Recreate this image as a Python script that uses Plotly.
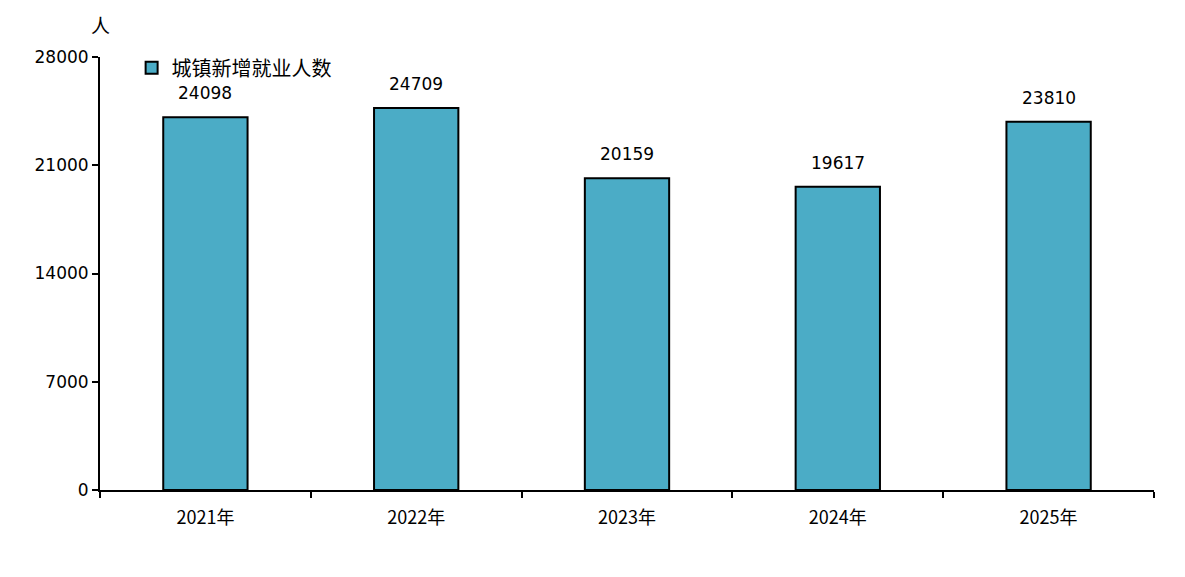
import plotly.graph_objects as go

years = ["2021年", "2022年", "2023年", "2024年", "2025年"]
new_jobs = [24098, 24709, 20159, 19617, 23810]
y_ticks = [0, 7000, 14000, 21000, 28000]

font_cn = "Noto Sans CJK SC, DejaVu Sans, sans-serif"

fig = go.Figure()
fig.add_trace(go.Bar(
    x=years, y=new_jobs, name="城镇新增就业人数",
    width=0.4,
    marker=dict(color="#4BACC6", line=dict(color="black", width=2)),
))

# value labels above the bars
for yr, v in zip(years, new_jobs):
    fig.add_annotation(x=yr, y=v, text=str(v), showarrow=False,
                       yanchor="bottom", yshift=12,
                       font=dict(size=17, color="black", family="DejaVu Sans, sans-serif"))

fig.add_annotation(xref="paper", yref="paper", x=0.0, y=1.0, text="人",
                   showarrow=False, xanchor="center", yanchor="bottom", yshift=17,
                   font=dict(size=19, color="black", family=font_cn))

fig.update_layout(
    width=1185, height=577,
    margin=dict(l=92, r=39, t=49, b=95),
    plot_bgcolor="white", paper_bgcolor="white",
    showlegend=True,
    legend=dict(x=0.03, y=1.02, xanchor="left", yanchor="top",
                font=dict(size=20, family=font_cn, color="black"),
                bgcolor="rgba(0,0,0,0)"),
    font=dict(family="DejaVu Sans, sans-serif", color="black", size=16),
)
fig.update_xaxes(showline=True, linecolor="black", linewidth=2,
                 ticks="outside", ticklen=6, tickwidth=2, tickcolor="black",
                 tickson="boundaries", showgrid=False, ticklabelstandoff=10,
                 tickfont=dict(size=18, family=font_cn))
fig.update_yaxes(range=[0, 28000], tickvals=y_ticks, tickformat="d",
                 showline=True, linecolor="black", linewidth=2,
                 ticks="outside", ticklen=6, tickwidth=2, tickcolor="black",
                 showgrid=False, zeroline=False,
                 tickfont=dict(size=17))

fig.write_html("out.html")
